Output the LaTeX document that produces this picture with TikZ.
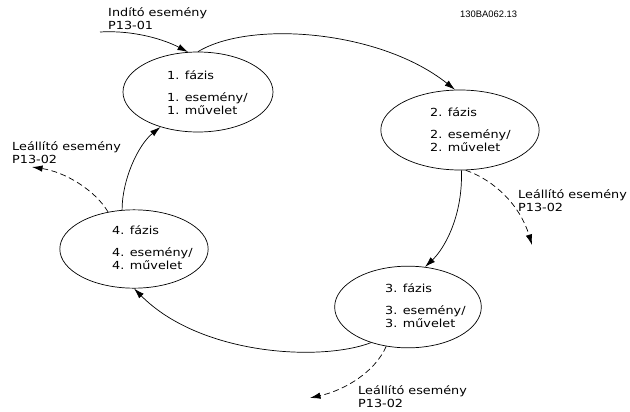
\documentclass[tikz,border=0pt]{standalone}
\usepackage{fontspec}
\setmainfont{DejaVu Sans}[FakeStretch=1.15]
\newfontfamily\codefont{Liberation Sans}
\usetikzlibrary{shapes.geometric, arrows.meta, positioning}
\tikzstyle{phase} = [ellipse, draw=black, line width=0.6pt, minimum width=4.5cm, minimum height=2.4cm, inner sep=0pt]
\tikzstyle{phasetext} = [anchor=west, align=left, inner sep=0pt, font=\fontsize{9.5}{11.5}\selectfont]
\tikzstyle{event} = [anchor=north west, align=left, inner sep=0pt, font=\fontsize{9.5}{11.5}\selectfont]
\tikzstyle{arrow} = [line width=0.6pt, -{Latex[length=9pt,width=5.5pt]}]
\tikzstyle{stoparrow} = [arrow, dash pattern=on 5pt off 3pt]

\begin{document}
\begin{tikzpicture}[x=0.03cm, y=-0.03cm]
    \useasboundingbox (0,0) rectangle (630,412);
    % phases
    \node[phase] (e1) at (198,92) {};
    \node[phase, minimum width=4.75cm] (e2) at (460,130) {};
    \node[phase, minimum width=4.4cm, minimum height=2.45cm] (e3) at (408,307) {};
    \node[phase, minimum width=4.45cm, minimum height=2.35cm] (e4) at (134,249) {};
    \node[phasetext] (t1) at (167,93) {1. fázis\\[7pt]1. esemény/\\1. művelet};
    \node[phasetext] (t2) at (430,130) {2. fázis\\[7pt]2. esemény/\\2. művelet};
    \node[phasetext] (t3) at (385,306) {3. fázis\\[7pt]3. esemény/\\3. művelet};
    \node[phasetext] (t4) at (112,248) {4. fázis\\[7pt]4. esemény/\\4. művelet};
    % events
    \node[event] (startlbl) at (108,7) {Indító esemény\\P13-01};
    \node[event] (stoplbl4) at (12,141) {Leállító esemény\\P13-02};
    \node[event] (stoplbl2) at (518,189) {Leállító esemény\\P13-02};
    \node[event] (stoplbl3) at (358,385) {Leállító esemény\\P13-02};
    \node[anchor=north west, inner sep=0pt, font=\codefont\fontsize{8}{9}\selectfont] (code) at (460,11) {130BA062.13};
    \coordinate (start) at (100,32);
    \coordinate (stop4) at (32,167);
    \coordinate (stop2) at (532,245);
    \coordinate (stop3) at (310,398);
    % cycle
    \draw[arrow] (start) .. controls (135,30) and (165,40) .. (e1.104);
    \draw[arrow] (e1.north) .. controls (250,20) and (380,30) .. (e2.97);
    \draw[arrow] (e2.272) .. controls (463,215) and (445,248) .. (e3.67);
    \draw[arrow] (e3.224) .. controls (320,362) and (200,355) .. (e4.south);
    \draw[arrow] (e4.107) .. controls (122,180) and (138,145) .. (e1.223);
    % stop events
    \draw[stoparrow] (e4.125) .. controls (95,190) and (65,172) .. (stop4);
    \draw[stoparrow] (e2.278) .. controls (494,180) and (520,205) .. (stop2);
    \draw[stoparrow] (e3.241) .. controls (375,372) and (345,390) .. (stop3);
\end{tikzpicture}
\end{document}
